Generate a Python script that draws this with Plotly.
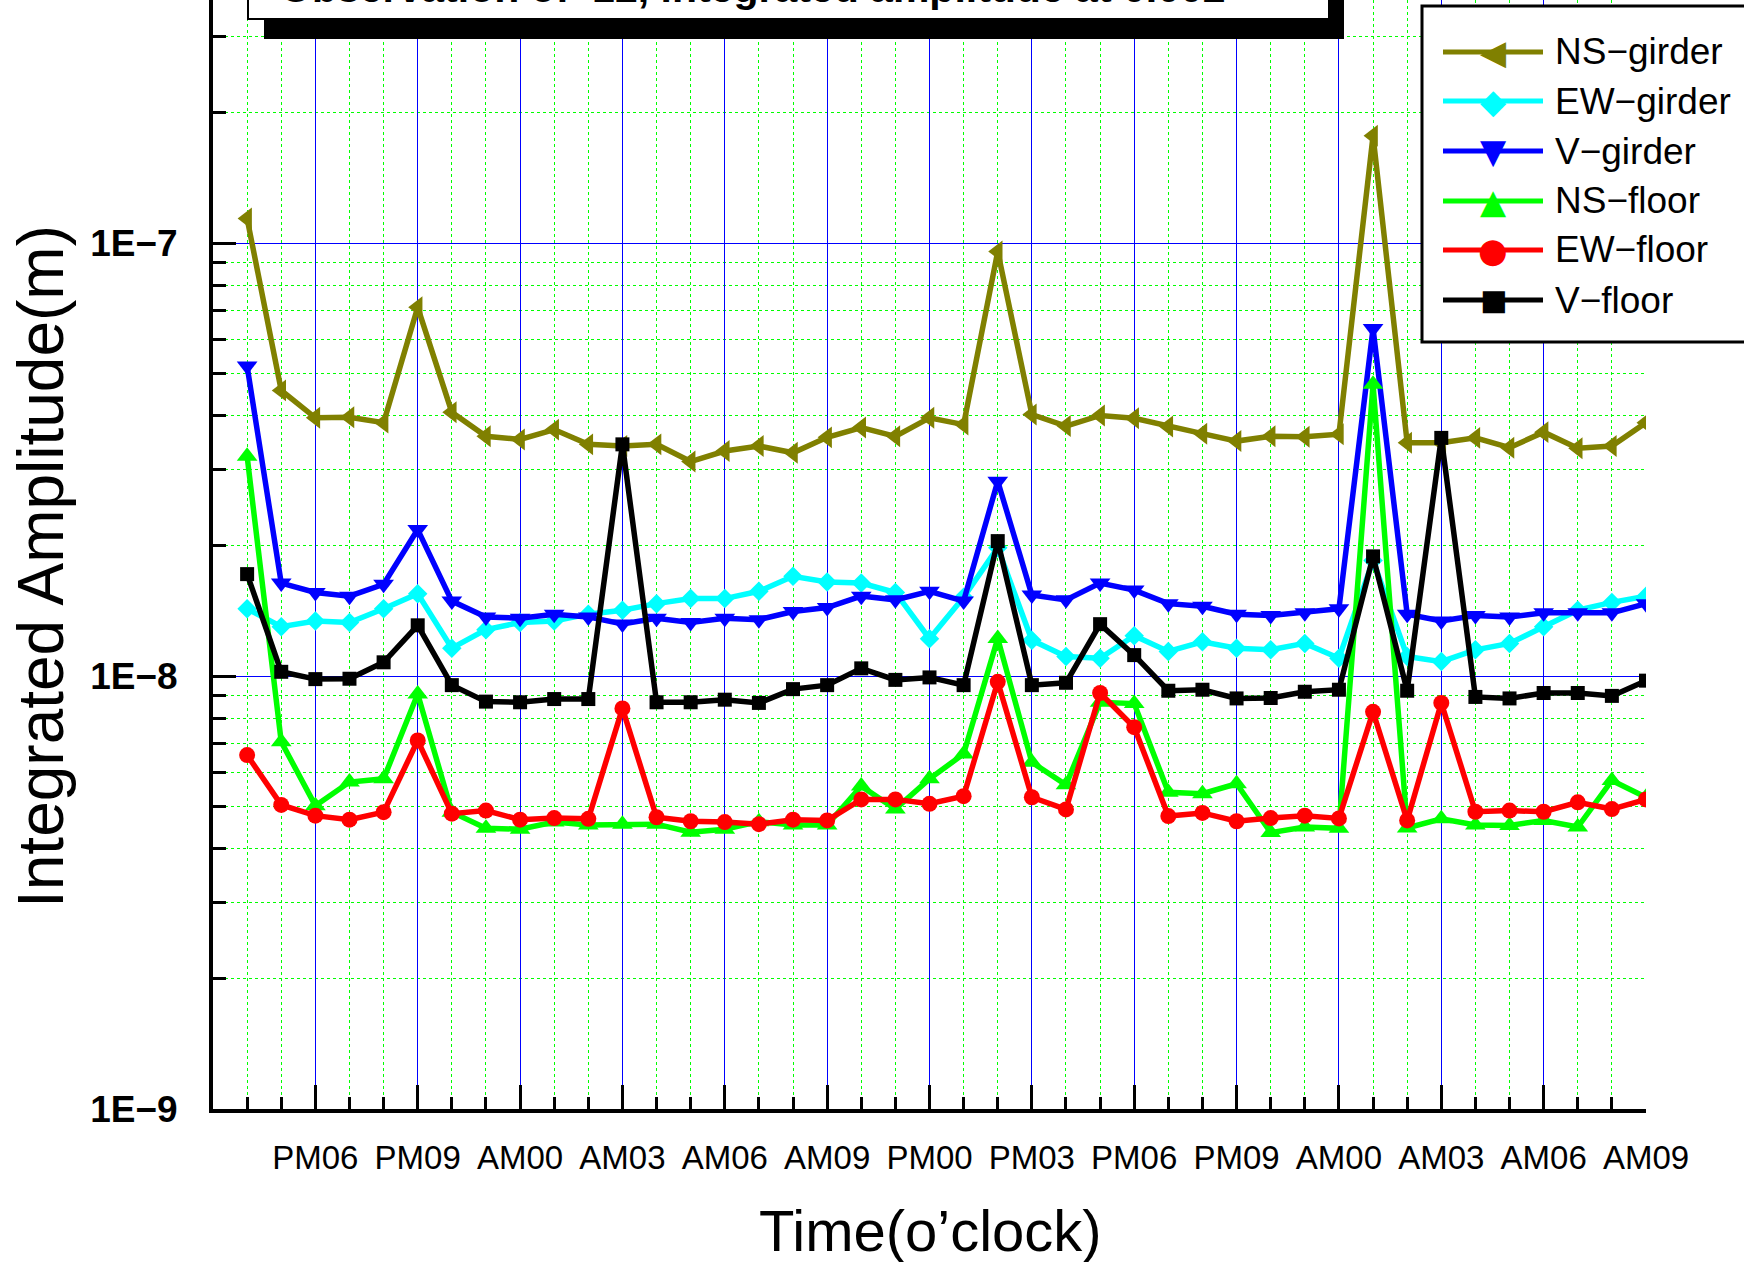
import plotly.graph_objects as go

# ---------------- data ----------------
hours = list(range(1, 43))
tick_hours = list(range(3, 43, 3))
tick_labels = ["PM06", "PM09", "AM00", "AM03", "AM06", "AM09", "PM00",
               "PM03", "PM06", "PM09", "AM00", "AM03", "AM06", "AM09"]
minor_hours = [h for h in range(1, 42) if h % 3 != 0]

ns_girder = [1.14e-7, 4.57e-8, 3.95e-8, 3.96e-8, 3.85e-8, 7.11e-8, 4.07e-8, 3.58e-8, 3.52e-8, 3.71e-8,
             3.43e-8, 3.40e-8, 3.43e-8, 3.13e-8, 3.31e-8, 3.40e-8, 3.28e-8, 3.56e-8, 3.75e-8, 3.58e-8,
             3.95e-8, 3.81e-8, 9.57e-8, 4.02e-8, 3.78e-8, 4.00e-8, 3.94e-8, 3.77e-8, 3.63e-8, 3.49e-8,
             3.58e-8, 3.57e-8, 3.62e-8, 1.77e-7, 3.46e-8, 3.46e-8, 3.55e-8, 3.37e-8, 3.66e-8, 3.36e-8,
             3.40e-8, 3.85e-8]
ew_girder = [1.43e-8, 1.30e-8, 1.34e-8, 1.33e-8, 1.43e-8, 1.55e-8, 1.16e-8, 1.28e-8, 1.33e-8, 1.34e-8,
             1.39e-8, 1.42e-8, 1.47e-8, 1.51e-8, 1.51e-8, 1.57e-8, 1.70e-8, 1.65e-8, 1.64e-8, 1.56e-8,
             1.22e-8, 1.52e-8, 1.98e-8, 1.21e-8, 1.11e-8, 1.10e-8, 1.24e-8, 1.14e-8, 1.20e-8, 1.16e-8,
             1.15e-8, 1.19e-8, 1.10e-8, 1.85e-8, 1.11e-8, 1.08e-8, 1.15e-8, 1.19e-8, 1.30e-8, 1.42e-8,
             1.48e-8, 1.53e-8]
v_girder = [5.20e-8, 1.64e-8, 1.56e-8, 1.53e-8, 1.63e-8, 2.18e-8, 1.49e-8, 1.37e-8, 1.36e-8, 1.39e-8,
            1.37e-8, 1.32e-8, 1.36e-8, 1.33e-8, 1.36e-8, 1.35e-8, 1.41e-8, 1.44e-8, 1.53e-8, 1.50e-8,
            1.57e-8, 1.49e-8, 2.82e-8, 1.54e-8, 1.50e-8, 1.64e-8, 1.58e-8, 1.47e-8, 1.45e-8, 1.39e-8,
            1.38e-8, 1.40e-8, 1.43e-8, 6.35e-8, 1.39e-8, 1.34e-8, 1.38e-8, 1.37e-8, 1.40e-8, 1.40e-8,
            1.40e-8, 1.47e-8]
ns_floor = [3.22e-8, 7.05e-9, 5.02e-9, 5.69e-9, 5.79e-9, 9.09e-9, 4.85e-9, 4.45e-9, 4.43e-9, 4.60e-9,
            4.53e-9, 4.55e-9, 4.55e-9, 4.36e-9, 4.43e-9, 4.61e-9, 4.53e-9, 4.53e-9, 5.57e-9, 4.93e-9,
            5.79e-9, 6.61e-9, 1.222e-8, 6.32e-9, 5.61e-9, 8.70e-9, 8.64e-9, 5.39e-9, 5.35e-9, 5.64e-9,
            4.35e-9, 4.48e-9, 4.45e-9, 4.72e-8, 4.46e-9, 4.68e-9, 4.53e-9, 4.52e-9, 4.64e-9, 4.48e-9,
            5.74e-9, 5.25e-9]
ew_floor = [6.57e-9, 5.04e-9, 4.76e-9, 4.66e-9, 4.85e-9, 7.10e-9, 4.81e-9, 4.89e-9, 4.66e-9, 4.70e-9,
            4.68e-9, 8.42e-9, 4.72e-9, 4.62e-9, 4.60e-9, 4.55e-9, 4.66e-9, 4.64e-9, 5.19e-9, 5.19e-9,
            5.07e-9, 5.28e-9, 9.70e-9, 5.25e-9, 4.92e-9, 9.14e-9, 7.62e-9, 4.75e-9, 4.83e-9, 4.62e-9,
            4.70e-9, 4.76e-9, 4.69e-9, 8.27e-9, 4.64e-9, 8.67e-9, 4.86e-9, 4.89e-9, 4.86e-9, 5.11e-9,
            4.93e-9, 5.19e-9]
v_floor = [1.72e-8, 1.023e-8, 9.84e-9, 9.86e-9, 1.076e-8, 1.31e-8, 9.53e-9, 8.73e-9, 8.70e-9, 8.85e-9,
           8.85e-9, 3.43e-8, 8.70e-9, 8.70e-9, 8.82e-9, 8.67e-9, 9.33e-9, 9.53e-9, 1.042e-8, 9.80e-9,
           9.93e-9, 9.53e-9, 2.05e-8, 9.53e-9, 9.65e-9, 1.318e-8, 1.118e-8, 9.25e-9, 9.30e-9, 8.88e-9,
           8.90e-9, 9.20e-9, 9.30e-9, 1.89e-8, 9.25e-9, 3.55e-8, 8.95e-9, 8.88e-9, 9.14e-9, 9.14e-9,
           9.00e-9, 9.76e-9]

series_names = ["NS-girder", "EW-girder", "V-girder", "NS-floor", "EW-floor", "V-floor"]
series_values = [ns_girder, ew_girder, v_girder, ns_floor, ew_floor, v_floor]
legend_labels = ["NS\u2212girder", "EW\u2212girder", "V\u2212girder", "NS\u2212floor", "EW\u2212floor", "V\u2212floor"]

y_major = [1e-9, 1e-8, 1e-7, 1e-6]
y_major_text = ["1E\u22129", "1E\u22128", "1E\u22127", "1E\u22126"]

# ---------------- styles ----------------
colors = ["#808000", "#00FFFF", "#0000FF", "#00FF00", "#FF0000", "#000000"]
symbols = ["triangle-left", "diamond", "triangle-down", "triangle-up", "circle", "square"]
msizes = [19, 15, 18, 18, 16, 14]
legend_glyphs = ["\u25C0", "\u25C6", "\u25BC", "\u25B2", "\u25CF", "\u25A0"]
legend_gsize = [34, 34, 34, 34, 34, 29]

FONT = "Liberation Sans, Arial, sans-serif"
W, H = 1744, 1262
L, R, T, B = 213, 98, 0, 153
PW, PH = W - L - R, H - T - B


def px(X):
    return (X - L) / PW


def py(Y):
    return (PH - Y) / PH


y_minor = [k * 10.0 ** e for e in (-9, -8, -7) for k in range(2, 10)]

fig = go.Figure()
for name, vals, c, s, ms in zip(series_names, series_values, colors, symbols, msizes):
    fig.add_trace(go.Scatter(
        x=hours, y=vals, name=name, mode="lines+markers",
        line=dict(color=c, width=5.5),
        marker=dict(color=c, symbol=s, size=ms, line=dict(width=0)),
        showlegend=False,
    ))

shapes = []
annotations = []

# title box (cut by top edge)
shapes.append(dict(type="rect", xref="paper", yref="paper", x0=px(264), x1=px(1344),
                   y0=py(39), y1=py(-80), fillcolor="black", line=dict(width=0), layer="above"))
shapes.append(dict(type="rect", xref="paper", yref="paper", x0=px(248), x1=px(1329),
                   y0=py(19), y1=py(-80), fillcolor="white", line=dict(color="black", width=2), layer="above"))
annotations.append(dict(xref="paper", yref="paper", x=px(753), y=py(-12), xanchor="center", yanchor="middle",
                        text="<b>Observation of  12, integrated amplitude at 0.002</b>", showarrow=False,
                        font=dict(family=FONT, size=41, color="black")))

# legend box
shapes.append(dict(type="rect", xref="paper", yref="paper", x0=px(1422), x1=px(1790),
                   y0=py(342), y1=py(6), fillcolor="white", line=dict(color="black", width=3), layer="above"))
leg_y = [52, 101, 151, 201, 250, 300]
for lab, c, g, gs, yc in zip(legend_labels, colors, legend_glyphs, legend_gsize, leg_y):
    shapes.append(dict(type="line", xref="paper", yref="paper", x0=px(1443), x1=px(1543),
                       y0=py(yc), y1=py(yc), line=dict(color=c, width=5), layer="above"))
    annotations.append(dict(xref="paper", yref="paper", x=px(1493), y=py(yc), xanchor="center", yanchor="middle",
                            text=g, showarrow=False, font=dict(family="DejaVu Sans", size=gs, color=c)))
    annotations.append(dict(xref="paper", yref="paper", x=px(1553), y=py(yc), xanchor="left", yanchor="middle",
                            text=lab, showarrow=False, font=dict(family=FONT, size=37, color="black")))

# axis titles
annotations.append(dict(xref="paper", yref="paper", x=px(930), y=py(1230), xanchor="center", yanchor="middle",
                        text="Time(o\u2019clock)", showarrow=False, font=dict(family=FONT, size=58, color="black")))
annotations.append(dict(xref="paper", yref="paper", x=px(41), y=py(567), xanchor="center", yanchor="middle",
                        text="Integrated Amplitude(m)", textangle=-90, showarrow=False,
                        font=dict(family=FONT, size=64, color="black")))

fig.update_layout(
    width=W, height=H,
    margin=dict(l=L, r=R, t=T, b=B, pad=0),
    paper_bgcolor="white", plot_bgcolor="white",
    shapes=shapes, annotations=annotations,
    showlegend=False,
    xaxis=dict(
        range=[0, 42], tickmode="array", tickvals=tick_hours, ticktext=tick_labels,
        ticks="inside", ticklen=24, tickwidth=3, tickcolor="black",
        showline=True, linewidth=4, linecolor="black", mirror=False, zeroline=False,
        showgrid=True, gridcolor="#0000FF", gridwidth=1,
        tickfont=dict(family=FONT, size=33, color="black"), ticklabelstandoff=16,
        minor=dict(tickmode="array", tickvals=minor_hours, ticks="inside", ticklen=12, tickwidth=3,
                   tickcolor="black", showgrid=True, gridcolor="#00FF00", gridwidth=1, griddash="dot"),
    ),
    yaxis=dict(
        type="log", range=[-9, -7 + 243.5 / 433.5], tickmode="array", tickvals=y_major, ticktext=y_major_text,
        ticks="inside", ticklen=23, tickwidth=3, tickcolor="black",
        showline=True, linewidth=4, linecolor="black", mirror=False, zeroline=False,
        showgrid=True, gridcolor="#0000FF", gridwidth=1,
        tickfont=dict(family=FONT, size=37, color="black", weight="bold"), ticklabelstandoff=24,
        minor=dict(tickmode="array", tickvals=y_minor, ticks="inside", ticklen=13, tickwidth=3,
                   tickcolor="black", showgrid=True, gridcolor="#00FF00", gridwidth=1, griddash="dot"),
    ),
)

fig.write_html("out.html", config={"displayModeBar": False},
               post_script="document.body.style.margin='0';document.body.style.overflow='hidden';")
